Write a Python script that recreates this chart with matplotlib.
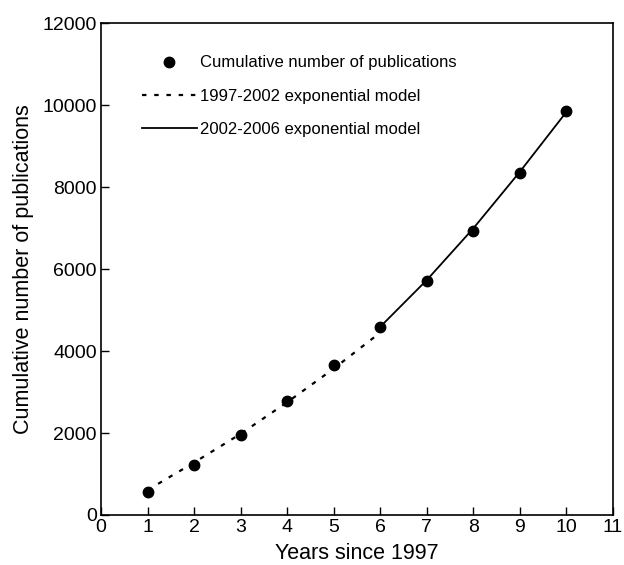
import numpy as np
import matplotlib.pyplot as plt

plt.rcParams['font.family'] = ['Liberation Sans', 'DejaVu Sans']

years = [1, 2, 3, 4, 5, 6, 7, 8, 9, 10]
pubs = [570, 1230, 1940, 2780, 3650, 4580, 5710, 6940, 8350, 9860]

# model curves
model1_x = [1, 2, 3, 4, 5, 6]
model1_y = [610, 1280, 1980, 2750, 3570, 4450]
model2_x = [6, 7, 8, 9, 10]
model2_y = [4590, 5730, 6990, 8370, 9830]

fig = plt.figure(figsize=(6.24, 5.65), dpi=100)
ax = fig.add_axes([0.162, 0.0885, 0.82, 0.8705])

ax.plot(years, pubs, 'o', color='black', markersize=7.5, label='Cumulative number of publications')
ax.plot(model1_x, model1_y, color='black', lw=1.6, dashes=(2, 3.5), label='1997-2002 exponential model')
ax.plot(model2_x, model2_y, color='black', lw=1.3, label='2002-2006 exponential model')

ax.set_xlim(0, 11)
ax.set_ylim(0, 12000)
ax.set_xticks(range(0, 12))
ax.set_yticks(range(0, 12001, 2000))
ax.tick_params(direction='in', length=6, labelsize=14, width=1, pad=3)
for s in ax.spines.values():
    s.set_linewidth(1.2)

ax.set_xlabel('Years since 1997', fontsize=15.5, labelpad=5)
ax.set_ylabel('Cumulative number of publications', fontsize=15.5, labelpad=6)

ax.legend(loc='upper left', bbox_to_anchor=(0.05, 0.965), frameon=False, fontsize=12,
          handlelength=3.3, handletextpad=0.2, labelspacing=1.1)

fig.savefig('out.png', dpi=100)
